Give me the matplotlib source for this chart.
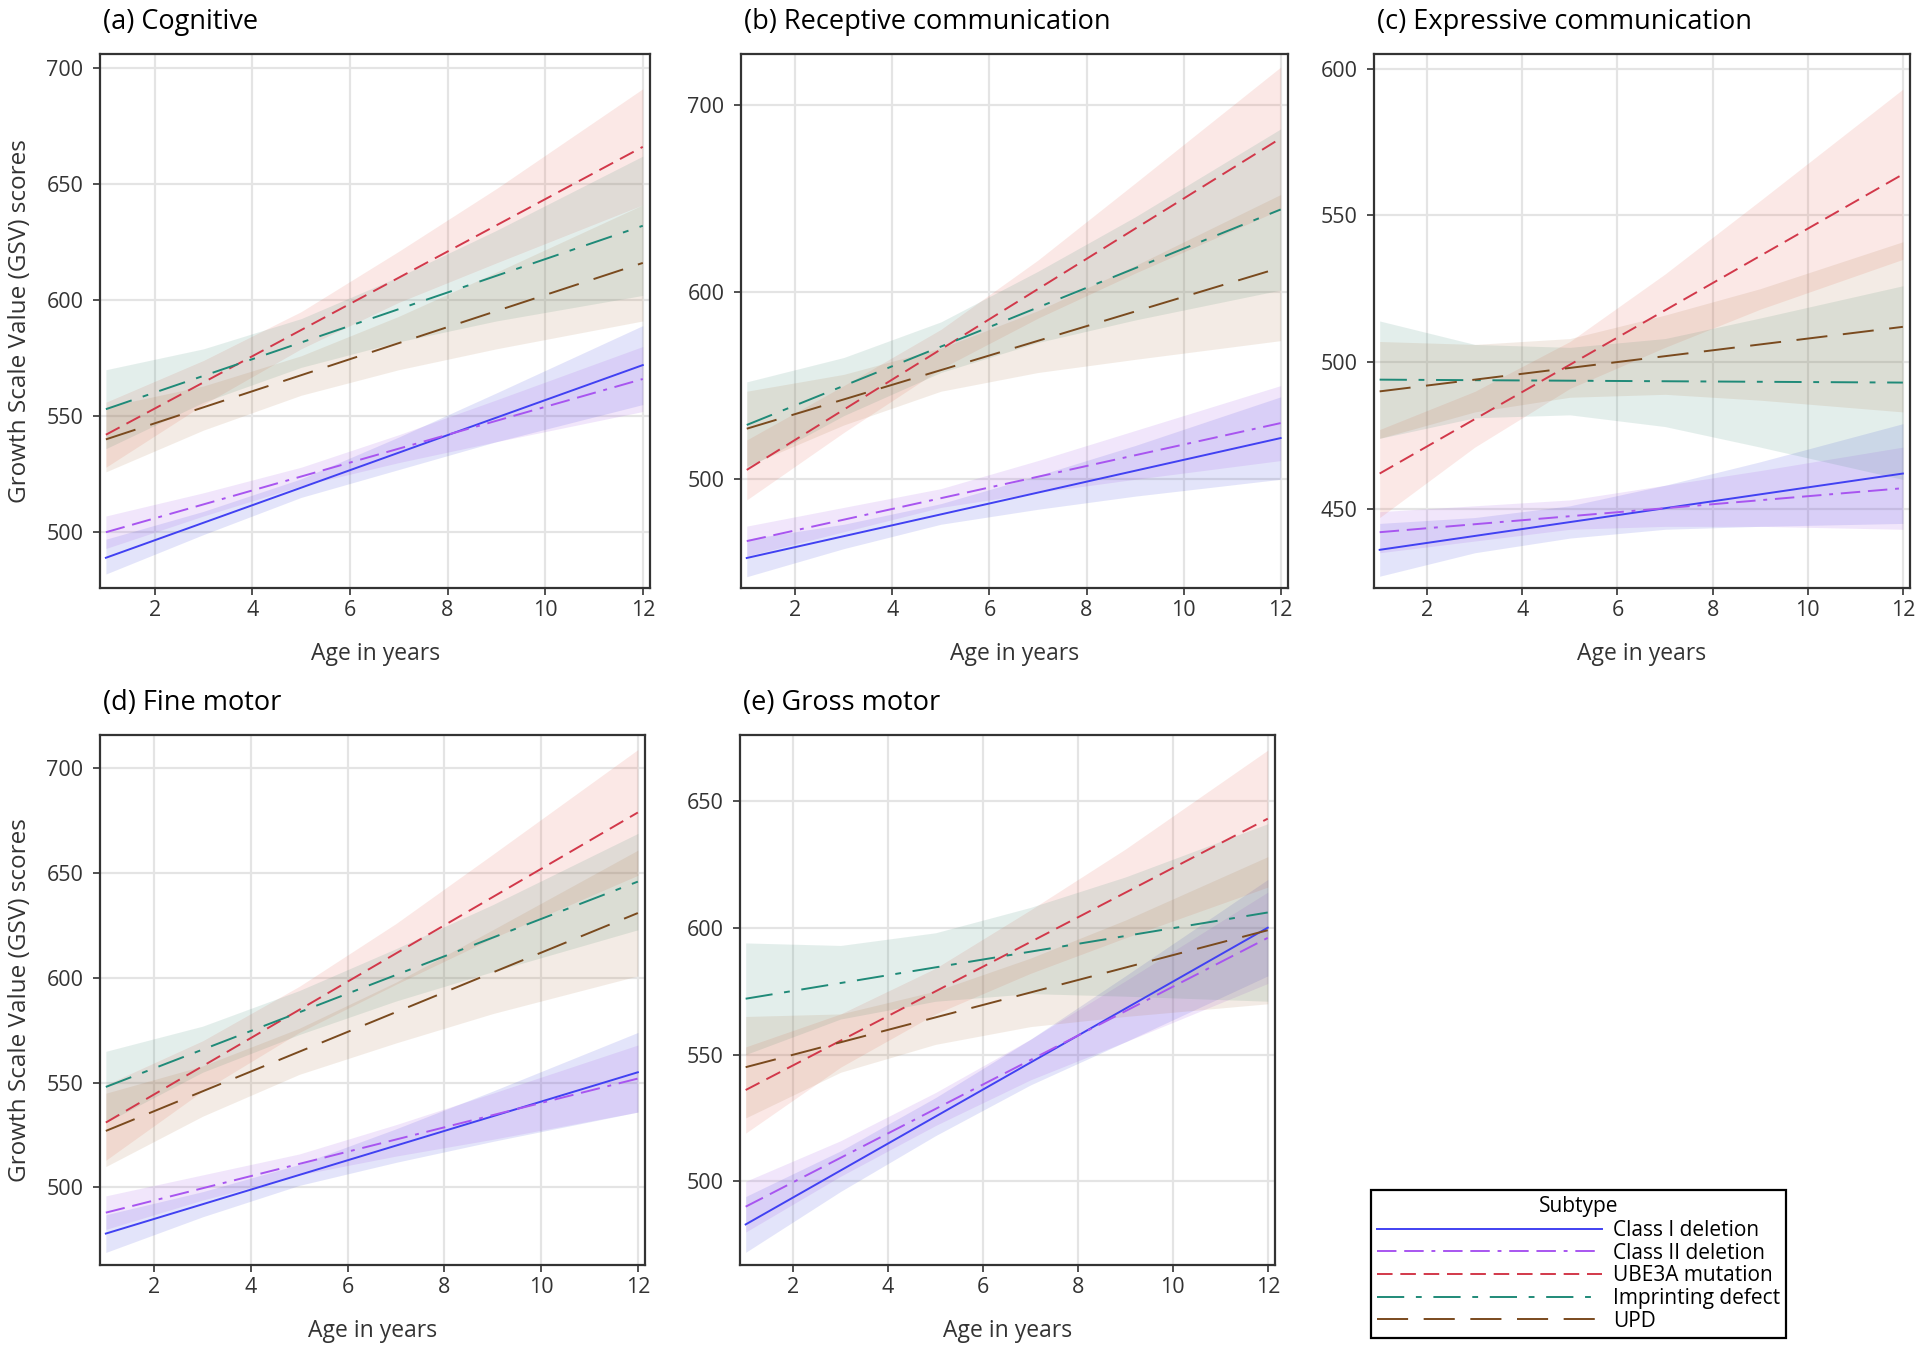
import matplotlib.pyplot as plt
import numpy as np

plt.rcParams['font.family'] = ['Open Sans', 'DejaVu Sans']

subtypes = ["Class I deletion", "Class II deletion", "UBE3A mutation", "Imprinting defect", "UPD"]
line_colors = ["#4141f2", "#a855f0", "#d2384a", "#1f8a78", "#7a4a1e"]
band_colors = ["#3c46dc", "#a050e6", "#e8604e", "#3f8c78", "#b07848"]
line_styles = ["-", (0, (10, 4, 10, 4, 2, 4)), (0, (8, 4)), (0, (14, 6, 3, 6)), (0, (16, 8))]

line_ages = [1, 12]
band_ages = [1, 3, 5, 7, 9, 12]

# (a) Cognitive
cog_mean = [[489, 572], [500, 566], [542, 666], [553, 632], [540, 616]]
cog_lower = [[482, 499, 515, 527, 539, 555],
             [493, 507, 520, 530, 539, 552],
             [528, 555, 579, 599, 616, 641],
             [536, 556, 571, 582, 591, 602],
             [526, 544, 559, 570, 579, 591]]
cog_upper = [[497, 509, 523, 541, 560, 589],
             [507, 517, 528, 542, 557, 580],
             [556, 574, 595, 621, 648, 691],
             [570, 579, 592, 610, 630, 662],
             [554, 563, 576, 593, 612, 641]]

# (b) Receptive communication
rec_mean = [[458, 522], [467, 530], [505, 682], [529, 644], [527, 613]]
rec_lower = [[448, 463, 476, 484, 491, 500],
             [459, 472, 485, 493, 500, 510],
             [489, 525, 559, 586, 610, 644],
             [506, 534, 557, 573, 585, 601],
             [507, 529, 547, 557, 564, 574]]
rec_upper = [[468, 476, 487, 502, 518, 544],
             [475, 485, 495, 510, 526, 550],
             [521, 550, 580, 617, 658, 720],
             [552, 565, 584, 611, 640, 687],
             [547, 556, 570, 590, 614, 652]]

# (c) Expressive communication
exp_mean = [[436, 462], [442, 457], [462, 564], [494, 493], [490, 512]]
exp_lower = [[427, 435, 440, 443, 444, 445],
             [435, 439, 443, 444, 444, 443],
             [447, 471, 491, 505, 518, 535],
             [474, 481, 482, 478, 471, 460],
             [474, 483, 488, 489, 487, 483]]
exp_upper = [[445, 447, 451, 458, 466, 479],
             [449, 451, 453, 458, 463, 471],
             [477, 490, 507, 530, 555, 593],
             [514, 506, 505, 508, 515, 526],
             [507, 506, 508, 516, 525, 541]]

# (d) Fine motor
fine_mean = [[478, 555], [488, 552], [531, 679], [548, 646], [527, 631]]
fine_lower = [[469, 486, 501, 512, 522, 536],
              [480, 494, 506, 515, 523, 536],
              [513, 546, 574, 597, 619, 649],
              [531, 555, 573, 589, 603, 623],
              [510, 534, 554, 569, 583, 601]]
fine_upper = [[487, 498, 511, 528, 546, 574],
              [496, 506, 516, 530, 545, 568],
              [549, 570, 596, 626, 659, 709],
              [565, 577, 594, 614, 635, 669],
              [545, 558, 576, 598, 623, 661]]

# (e) Gross motor
gross_mean = [[483, 600], [490, 596], [536, 643], [572, 606], [545, 599]]
gross_lower = [[472, 496, 518, 538, 555, 581],
               [480, 502, 522, 540, 555, 578],
               [519, 545, 566, 582, 596, 616],
               [550, 564, 571, 574, 573, 571],
               [525, 543, 554, 561, 565, 570]]
gross_upper = [[494, 512, 533, 556, 581, 619],
               [500, 516, 535, 556, 579, 614],
               [553, 566, 584, 607, 631, 670],
               [594, 593, 598, 608, 620, 641],
               [565, 566, 575, 588, 603, 628]]

panels = [
    ("(a) Cognitive", cog_mean, cog_lower, cog_upper, (476, 706), [500, 550, 600, 650, 700], True),
    ("(b) Receptive communication", rec_mean, rec_lower, rec_upper, (442, 727), [500, 600, 700], False),
    ("(c) Expressive communication", exp_mean, exp_lower, exp_upper, (423, 605), [450, 500, 550, 600], False),
    ("(d) Fine motor", fine_mean, fine_lower, fine_upper, (463, 716), [500, 550, 600, 650, 700], True),
    ("(e) Gross motor", gross_mean, gross_lower, gross_upper, (467, 676), [500, 550, 600, 650], False),
]

positions = [
    [0.0521, 0.5664, 0.2865, 0.3938],
    [0.3859, 0.5664, 0.2849, 0.3938],
    [0.7156, 0.5664, 0.2792, 0.3938],
    [0.0521, 0.0671, 0.2839, 0.3909],
    [0.3854, 0.0671, 0.2786, 0.3909],
]

fig = plt.figure(figsize=(19.2, 13.56), dpi=100)

for pos, (title, mean, lower, upper, ylim, yticks, ylab) in zip(positions, panels):
    ax = fig.add_axes(pos)
    for i in range(len(subtypes)):
        ax.fill_between(band_ages, lower[i], upper[i], color=band_colors[i], alpha=0.14, lw=0, zorder=2)
    for i in range(len(subtypes)):
        ax.plot(line_ages, mean[i], color=line_colors[i], ls=line_styles[i], lw=1.4, zorder=3,
                label=subtypes[i])
    ax.set_xlim(0.88, 12.15)
    ax.set_ylim(*ylim)
    ax.set_xticks([2, 4, 6, 8, 10, 12])
    ax.set_yticks(yticks)
    ax.grid(True, color="#e4e4e4", lw=1.6, zorder=0)
    ax.set_axisbelow(True)
    for s in ax.spines.values():
        s.set_color("#333333")
        s.set_linewidth(1.6)
    ax.tick_params(labelsize=15.5, colors="#333333", length=5, width=1.2, labelcolor="#333333")
    ax.tick_params(axis="y", pad=7)
    ax.set_xlabel("Age in years", fontsize=16.5, color="#333333", labelpad=15)
    if ylab:
        ax.set_ylabel("Growth Scale Value (GSV) scores", fontsize=17.5, color="#333333", labelpad=10)
    ax.set_title(title, loc="left", fontsize=19.5, pad=18, x=0.005)

handles, labels = ax.get_legend_handles_labels()
leg = fig.legend(handles, labels, title="Subtype", loc="upper left",
                 bbox_to_anchor=(1371 / 1920, 1 - 1190 / 1356), borderaxespad=0,
                 fontsize=15, title_fontsize=15, handlelength=10.8, labelspacing=0.08,
                 fancybox=False, edgecolor="black", framealpha=1, borderpad=0.3,
                 handletextpad=0.5)
leg.get_frame().set_linewidth(1.6)
leg._legend_box.sep = 2

fig.savefig("out.png", dpi=100)
